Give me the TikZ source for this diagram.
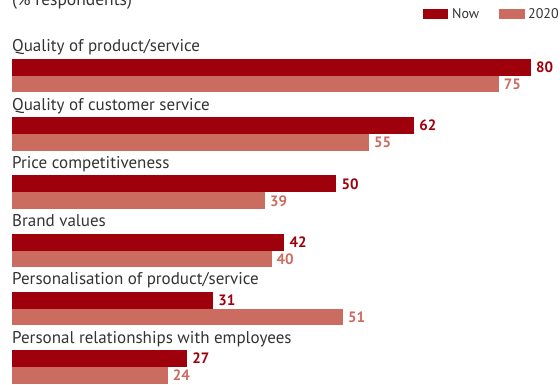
\documentclass[tikz,border=0pt]{standalone}
\usepackage{fontspec}
\setmainfont{PT Sans}
\definecolor{nowc}{HTML}{9E000C}
\definecolor{futc}{HTML}{CB6C60}
\definecolor{txt}{HTML}{333333}
\begin{document}
\begin{tikzpicture}[x=1pt,y=-1pt,
  lab/.style={anchor=base west,inner sep=0pt,text=txt,font=\fontsize{17}{17}\selectfont},
  nowbar/.style={fill=nowc,draw=none},
  futbar/.style={fill=futc,draw=none},
  nowval/.style={anchor=west,inner sep=0pt,text=nowc,font=\fontsize{15}{15}\selectfont\bfseries},
  futval/.style={anchor=west,inner sep=0pt,text=futc,font=\fontsize{15}{15}\selectfont\bfseries},
  leg/.style={anchor=base west,inner sep=0pt,text=txt,font=\fontsize{14}{14}\selectfont}]
\useasboundingbox (0,0) rectangle (560,385);
\clip (0,0) rectangle (560,385);
\node[lab,font=\fontsize{17.5}{17.5}\selectfont] (title) at (12,5.5) {(\% respondents)};
% legend
\fill[nowbar] (423,9) rectangle (448,19);
\node[leg] (lnow) at (452,19) {Now};
\fill[futbar] (499,9) rectangle (525,19);
\node[leg] (lfut) at (528,19) {2020};
\def\sc{6.4875}
\foreach \i/\lbl/\a/\b in {0/Quality of product\slash service/80/75,
  1/Quality of customer service/62/55,
  2/Price competitiveness/50/39,
  3/Brand values/42/40,
  4/Personalisation of product\slash service/31/51,
  5/Personal relationships with employees/27/24}{
  \pgfmathsetmacro{\yt}{59+58.2*\i}
  \node[lab] (l\i) at (12,\yt-7) {\lbl};
  \fill[nowbar] (12,\yt) rectangle ({12+\a*\sc},\yt+17);
  \fill[futbar] (12,\yt+17) rectangle ({12+\b*\sc},\yt+33.5);
  \node[nowval] (n\i) at ({12+\a*\sc+5},\yt+8.5) {\a};
  \node[futval] (f\i) at ({12+\b*\sc+5},\yt+25.5) {\b};
}
\end{tikzpicture}
\end{document}
